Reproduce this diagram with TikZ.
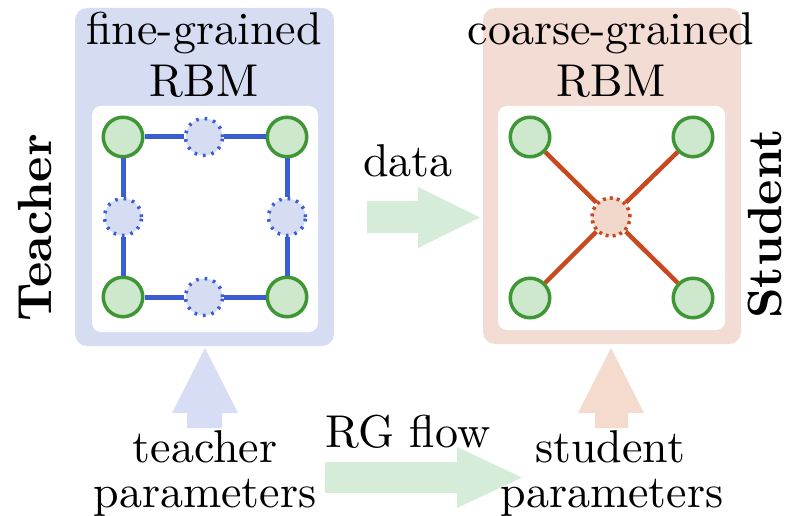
\documentclass[tikz,border=0pt]{standalone}
\usepackage{fontspec}
\setmainfont{lmroman10-regular}[Extension=.otf, BoldFont=lmroman10-bold]
\begin{document}
\definecolor{panelblue}{RGB}{214,221,243}
\definecolor{panelred}{RGB}{243,220,211}
\definecolor{arrowblue}{RGB}{216,221,246}
\definecolor{arrowred}{RGB}{245,218,206}
\definecolor{arrowgreen}{RGB}{213,236,217}
\definecolor{visgreen}{RGB}{62,150,52}
\definecolor{visfill}{RGB}{205,232,205}
\definecolor{edgeblue}{RGB}{58,94,210}
\definecolor{edgered}{RGB}{200,72,32}
\definecolor{hidredfill}{RGB}{242,216,202}
\tikzset{
  panelbox/.style={rounded corners=12pt},
  innerbox/.style={fill=white, rounded corners=9pt},
  visnode/.style={circle, draw=visgreen, fill=visfill, line width=3.5pt,
    minimum size=39.5pt, inner sep=0pt},
  hidblue/.style={circle, draw=edgeblue, fill=panelblue, line width=3.5pt,
    dash pattern=on 2.6pt off 6pt, minimum size=37pt, inner sep=0pt},
  hidred/.style={circle, draw=edgered, fill=hidredfill, line width=3.5pt,
    dash pattern=on 3pt off 4pt, minimum size=38pt, inner sep=0pt},
  bluebond/.style={draw=edgeblue, line width=5pt},
  redbond/.style={draw=edgered, line width=4.5pt},
  txt/.style={font=\fontsize{46}{52}\selectfont, inner sep=0pt, anchor=base},
  sidetxt/.style={font=\fontsize{48}{54}\selectfont\bfseries, inner sep=0pt, rotate=90}
}
\begin{tikzpicture}[x=1pt, y=-1pt]
  \useasboundingbox (0,0) rectangle (788,516);

  % panels
  \fill[panelblue, panelbox] (75,8) rectangle (334,346);
  \fill[panelred, panelbox] (483,8) rectangle (741,344);
  \fill[innerbox] (92,106) rectangle (318,332);
  \fill[innerbox] (498,106) rectangle (725,330);

  % block arrows
  \fill[arrowgreen] (367,201) -- (418,201) -- (418,187) -- (480,217.5)
    -- (418,248) -- (418,233) -- (367,233) -- cycle;
  \fill[arrowgreen] (325,462) -- (457,462) -- (457,447) -- (522,477.5)
    -- (457,508) -- (457,493) -- (325,493) -- cycle;
  \fill[arrowblue] (187,428) -- (187,413) -- (172,413) -- (205,348)
    -- (238,413) -- (222,413) -- (222,428) -- cycle;
  \fill[arrowred] (595,428) -- (595,413) -- (578,413) -- (611,348)
    -- (644,413) -- (628,413) -- (628,428) -- cycle;

  % fine-grained RBM
  \node[visnode] (f1) at (123,137) {};
  \node[visnode] (f2) at (287,137) {};
  \node[visnode] (f3) at (287,297) {};
  \node[visnode] (f4) at (123,297) {};
  \node[hidblue] (h1) at (204,137) {};
  \node[hidblue] (h2) at (287,217) {};
  \node[hidblue] (h3) at (204,297) {};
  \node[hidblue] (h4) at (123,217) {};
  \draw[bluebond] (f1) -- (h1) -- (f2) -- (h2) -- (f3) -- (h3) -- (f4) -- (h4) -- (f1);

  % coarse-grained RBM
  \node[visnode] (c1) at (530,137) {};
  \node[visnode] (c2) at (693,137) {};
  \node[visnode] (c3) at (693,298) {};
  \node[visnode] (c4) at (530,298) {};
  \node[hidred] (hc) at (611,217) {};
  \foreach \v in {c1,c2,c3,c4} \draw[redbond] (hc) -- (\v);

  % labels
  \node[txt] (tfine) at (204,45) {fine-grained};
  \node[txt] (trbm1) at (204,97) {RBM};
  \node[txt] (tcoarse) at (611,45) {coarse-grained};
  \node[txt] (trbm2) at (611,97) {RBM};
  \node[txt] (tdata) at (408,177) {data};
  \node[txt] (trg) at (408,447) {RG flow};
  \node[txt] (tteach) at (205,462) {teacher};
  \node[txt] (tpar1) at (205,507) {parameters};
  \node[txt] (tstud) at (610,462) {student};
  \node[txt] (tpar2) at (612,507) {parameters};
  \node[sidetxt] (tteacher) at (35,228) {Teacher};
  \node[sidetxt] (tstudent) at (765,224) {Student};
\end{tikzpicture}
\end{document}
